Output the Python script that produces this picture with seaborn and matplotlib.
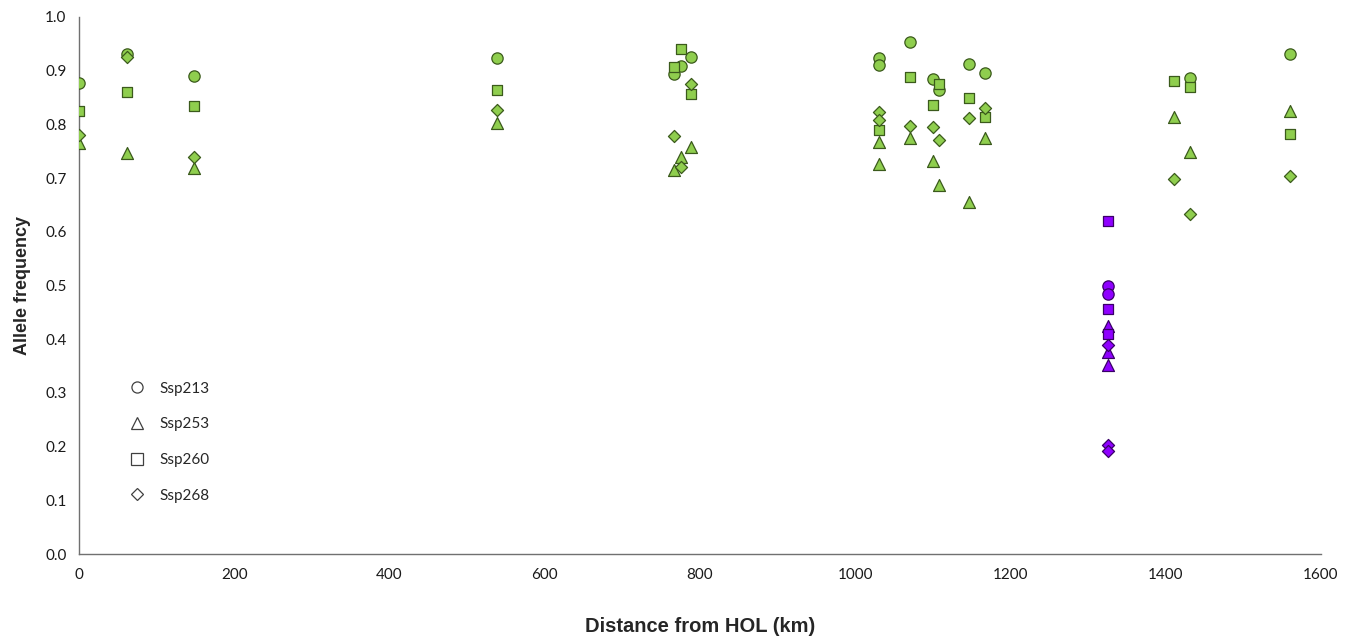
import numpy as np
import pandas as pd
import matplotlib
matplotlib.use("Agg")
import matplotlib.pyplot as plt
from matplotlib.lines import Line2D
import seaborn as sns

# Sampling sites: distance from HOL (km) and population group
distance_km = [0, 62, 148, 539, 766, 776, 789, 1030, 1030, 1071, 1100, 1108,
               1147, 1167, 1325, 1325, 1325, 1410, 1431, 1560]
group = ["main"] * 14 + ["outlier"] * 3 + ["main"] * 3

nan = np.nan
# Allele frequency per locus at each site
ssp213 = [0.877, 0.931, 0.891, 0.924, 0.893, 0.909, 0.925, 0.923, 0.911, 0.953,
          0.884, 0.864, 0.912, 0.895, 0.499, 0.485, nan, nan, 0.886, 0.932]
ssp253 = [0.766, 0.746, 0.718, 0.803, 0.716, 0.739, 0.757, 0.768, 0.726, 0.775,
          0.731, 0.687, 0.656, 0.774, 0.425, 0.377, 0.352, 0.813, 0.749, 0.825]
ssp260 = [0.825, 0.861, 0.834, 0.864, 0.906, 0.940, 0.857, 0.790, nan, 0.888,
          0.837, 0.875, 0.849, 0.814, 0.620, 0.456, 0.409, 0.880, 0.870, 0.782]
ssp268 = [0.780, 0.925, 0.740, 0.826, 0.778, 0.721, 0.875, 0.824, 0.808, 0.797,
          0.796, 0.771, 0.812, 0.831, 0.389, 0.203, 0.191, 0.698, 0.633, 0.704]

loci = ["Ssp213", "Ssp253", "Ssp260", "Ssp268"]
values = {"Ssp213": ssp213, "Ssp253": ssp253, "Ssp260": ssp260, "Ssp268": ssp268}
markers = {"Ssp213": "o", "Ssp253": "^", "Ssp260": "s", "Ssp268": "D"}
sizes = {"Ssp213": 66, "Ssp253": 74, "Ssp260": 60, "Ssp268": 38}
face = {"main": "#8fce4e", "outlier": "#8f00ff"}
edge = {"main": "#3b5a1c", "outlier": "#3a0068"}

frames = []
for locus in loci:
    frames.append(pd.DataFrame({"distance": distance_km, "group": group,
                                "locus": locus, "freq": values[locus]}))
df = pd.concat(frames, ignore_index=True).dropna()

sns.set_theme(style="white")
plt.rcParams["font.family"] = ["Lato", "DejaVu Sans"]

fig = plt.figure(figsize=(13.53, 6.36), dpi=100)
ax = fig.add_axes([79 / 1353, 1 - 554 / 636, 1242 / 1353, 537 / 636])

for locus in loci:
    for g in ["main", "outlier"]:
        sub = df[(df["locus"] == locus) & (df["group"] == g)]
        if sub.empty:
            continue
        sns.scatterplot(data=sub, x="distance", y="freq", ax=ax,
                        marker=markers[locus], s=sizes[locus],
                        color=face[g], edgecolor=edge[g], linewidth=0.9,
                        legend=False, zorder=3)

ax.set_xlim(0, 1600)
ax.set_ylim(0, 1.0)
ax.set_xticks(np.arange(0, 1601, 200))
ax.set_yticks(np.arange(0, 1.01, 0.1))
ax.set_yticklabels([f"{v:.1f}" for v in np.arange(0, 1.01, 0.1)])

for side in ["top", "right"]:
    ax.spines[side].set_visible(False)
for side in ["left", "bottom"]:
    ax.spines[side].set_color("#707070")
    ax.spines[side].set_linewidth(1.0)
ax.tick_params(axis="both", direction="out", length=5, width=1,
               color="#707070", labelsize=11, labelcolor="#1a1a1a")
ax.tick_params(axis="x", pad=5)
ax.tick_params(axis="y", pad=4)

ax.set_xlabel("Distance from HOL (km)", fontsize=14.5, fontweight="bold",
              family=["Liberation Sans", "DejaVu Sans"], labelpad=25)
ax.set_ylabel("Allele frequency", fontsize=13, fontweight="bold",
              family=["Liberation Sans", "DejaVu Sans"], labelpad=10)

handles = [Line2D([], [], ls="", marker=markers[l], markersize=8 if l != "Ssp268" else 6.5,
                  markerfacecolor="white", markeredgecolor="#404040",
                  markeredgewidth=0.9) for l in loci]
ax.legend(handles, loci, loc="upper left", bbox_to_anchor=(0.0343, 0.335),
          frameon=False, borderpad=0, handlelength=1.0, handletextpad=1.0,
          labelspacing=1.42, prop={"family": "Lato", "size": 11})

fig.savefig("out.png", dpi=100, facecolor="white")
